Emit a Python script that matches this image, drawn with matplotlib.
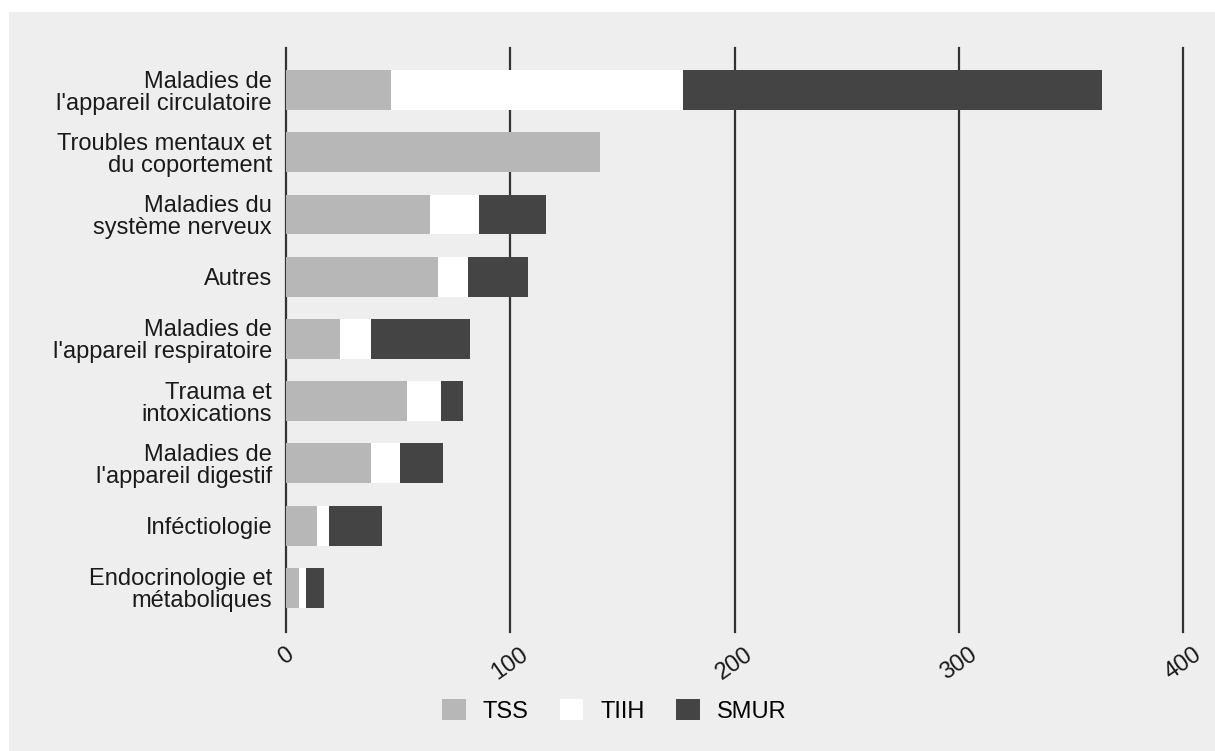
import matplotlib
matplotlib.use('Agg')
import matplotlib.pyplot as plt
from matplotlib.patches import Rectangle
import numpy as np

plt.rcParams['font.family'] = ['Liberation Sans', 'DejaVu Sans']

categories = ["Maladies de\nl'appareil circulatoire",
              "Troubles mentaux et\ndu coportement",
              "Maladies du\nsystème nerveux",
              "Autres",
              "Maladies de\nl'appareil respiratoire",
              "Trauma et\nintoxications",
              "Maladies de\nl'appareil digestif",
              "Inféctiologie",
              "Endocrinologie et\nmétaboliques"]
tss = [47, 140, 64, 68, 24, 54, 38, 14, 6]
tiih = [130, 0, 22, 13, 14, 15, 13, 5, 3]
smur = [187, 0, 30, 27, 44, 10, 19, 24, 8]
series_names = ['TSS', 'TIIH', 'SMUR']
colors = ['#b7b7b7', '#ffffff', '#444444']
xticks = [0, 100, 200, 300, 400]

fig = plt.figure(figsize=(12.15, 7.51), dpi=100)
fig.patch.set_facecolor('white')
# grey panel behind everything
fig.patches.append(Rectangle((9 / 1215, 0), 1206 / 1215, 739 / 751,
                             transform=fig.transFigure, facecolor='#eeeeee',
                             edgecolor='none', zorder=-5))

ax = fig.add_axes([286 / 1215, 1 - 632 / 751, 897 / 1215, 584 / 751])
ax.set_facecolor('none')

y = np.arange(len(categories))
left = np.zeros(len(categories))
for vals, name, col in zip([tss, tiih, smur], series_names, colors):
    ax.barh(y, vals, left=left, height=0.64, color=col, label=name,
            edgecolor='none', zorder=3)
    left += np.array(vals)

for xv in xticks:
    ax.axvline(xv, color='#333333', lw=1.6, zorder=1, clip_on=False)

ax.set_xlim(0, 400)
ax.set_ylim(len(categories) - 1 + 0.71, -0.675)
ax.set_yticks(y)
ax.set_yticklabels(categories, fontsize=17, color='#1a1a1a', linespacing=1.0)
ax.set_xticks(xticks)
ax.set_xticklabels([str(v) for v in xticks], fontsize=17, color='#1a1a1a',
                   rotation=35, ha='center')
ax.tick_params(axis='y', length=0, pad=10)
ax.tick_params(axis='x', length=0, pad=8)
for s in ax.spines.values():
    s.set_visible(False)

fig.legend(loc='center', bbox_to_anchor=(614 / 1215, 1 - 711 / 751), ncol=3,
           frameon=False, fontsize=17, handlelength=1.0, handleheight=1.0,
           columnspacing=1.35, handletextpad=0.7)

fig.savefig('out.png', dpi=100)
